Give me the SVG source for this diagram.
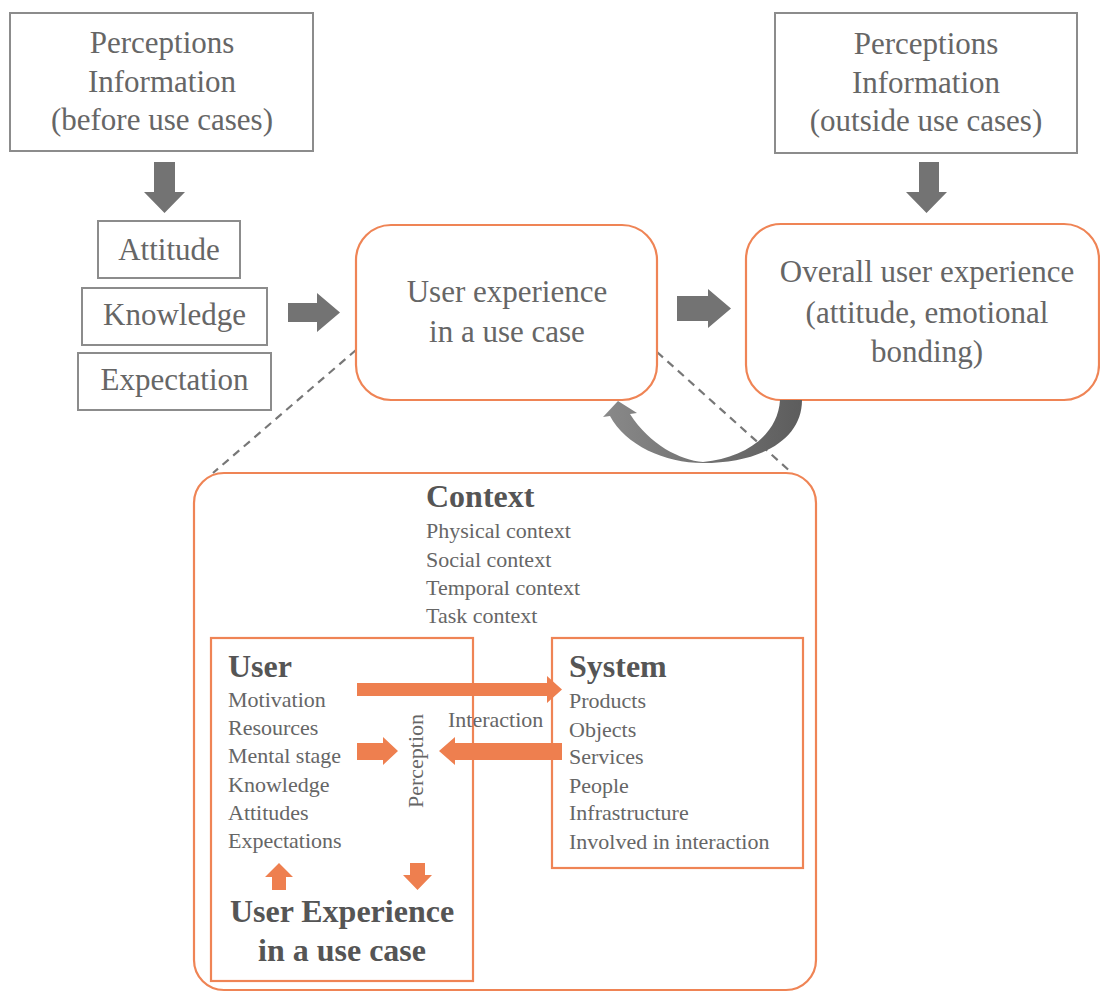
<svg xmlns="http://www.w3.org/2000/svg" width="1100" height="992" viewBox="0 0 1100 992">
  <defs>
    <style>
      text { font-family: "Liberation Serif", "DejaVu Serif", serif; fill: #666; }
      .big { font-size: 31px; text-anchor: middle; }
      .item { font-size: 22px; }
      .head { font-size: 32px; font-weight: bold; fill: #555; }
      .gbox { fill: #fff; stroke: #8c8c8c; stroke-width: 2; }
      .obox { fill: #fff; stroke: #ef8455; stroke-width: 2.2; }
      .garrow { fill: #737373; }
      .oarrow { fill: #ee7f4f; }
      .dash { fill: none; stroke: #777; stroke-width: 2.2; stroke-dasharray: 8 6; }
    </style>
    <linearGradient id="loopGrad" x1="600" y1="0" x2="805" y2="0" gradientUnits="userSpaceOnUse">
      <stop offset="0" stop-color="#8a8a8a"/>
      <stop offset="1" stop-color="#5c5c5c"/>
    </linearGradient>
  </defs>

  <rect width="1100" height="992" fill="#fff"/>

  <!-- zoom-out guides from the use-case box to the detail panel -->
  <g id="guides">
    <line class="dash" x1="356" y1="350" x2="213" y2="473"/>
    <line class="dash" x1="657" y1="352" x2="792" y2="473"/>
  </g>

  <!-- upper row -->
  <g id="before-info">
    <rect class="gbox" x="10" y="13" width="303" height="138"/>
    <text class="big" x="162" y="53">Perceptions</text>
    <text class="big" x="162" y="92">Information</text>
    <text class="big" x="162" y="130">(before use cases)</text>
  </g>

  <g id="outside-info">
    <rect class="gbox" x="775" y="13" width="302" height="140"/>
    <text class="big" x="926" y="54">Perceptions</text>
    <text class="big" x="926" y="93">Information</text>
    <text class="big" x="926" y="131">(outside use cases)</text>
  </g>

  <g id="attitude">
    <rect class="gbox" x="98" y="221" width="142" height="57"/>
    <text class="big" x="169" y="260">Attitude</text>
  </g>
  <g id="knowledge">
    <rect class="gbox" x="82" y="288" width="185" height="57"/>
    <text class="big" x="174.5" y="325">Knowledge</text>
  </g>
  <g id="expectation">
    <rect class="gbox" x="78" y="353" width="193" height="57"/>
    <text class="big" x="174.5" y="390">Expectation</text>
  </g>

  <g id="use-case-ux">
    <rect class="obox" x="356" y="225" width="301" height="175" rx="35"/>
    <text class="big" x="507" y="302">User experience</text>
    <text class="big" x="507" y="342">in a use case</text>
  </g>

  <g id="overall-ux">
    <rect class="obox" x="746" y="224" width="353" height="176" rx="35"/>
    <text class="big" x="927" y="282">Overall user experience</text>
    <text class="big" x="927" y="323">(attitude, emotional</text>
    <text class="big" x="927" y="362">bonding)</text>
  </g>

  <!-- detail panel -->
  <g id="context">
    <rect class="obox" x="194" y="473" width="622" height="517" rx="30"/>
    <text class="head" x="426" y="507">Context</text>
    <text class="item" x="426" y="538">Physical context</text>
    <text class="item" x="426" y="567">Social context</text>
    <text class="item" x="426" y="595">Temporal context</text>
    <text class="item" x="426" y="623">Task context</text>
  </g>

  <g id="user">
    <rect class="obox" x="211" y="638" width="262" height="343"/>
    <text class="head" x="228" y="677">User</text>
    <text class="item" x="228" y="707">Motivation</text>
    <text class="item" x="228" y="735">Resources</text>
    <text class="item" x="228" y="763">Mental stage</text>
    <text class="item" x="228" y="792">Knowledge</text>
    <text class="item" x="228" y="820">Attitudes</text>
    <text class="item" x="228" y="848">Expectations</text>
    <text class="head" x="342" y="922" text-anchor="middle">User Experience</text>
    <text class="head" x="342" y="961" text-anchor="middle">in a use case</text>
  </g>

  <g id="system">
    <rect class="obox" x="552" y="638" width="251" height="230"/>
    <text class="head" x="569" y="677">System</text>
    <text class="item" x="569" y="708">Products</text>
    <text class="item" x="569" y="737">Objects</text>
    <text class="item" x="569" y="764">Services</text>
    <text class="item" x="569" y="793">People</text>
    <text class="item" x="569" y="820">Infrastructure</text>
    <text class="item" x="569" y="849">Involved in interaction</text>
  </g>

  <g id="labels">
    <text class="item" x="448" y="727">Interaction</text>
    <text class="item" transform="translate(423 761) rotate(-90)" text-anchor="middle">Perception</text>
  </g>

  <!-- block arrows -->
  <g id="connectors">
    <!-- grey flow arrows -->
    <polygon class="garrow" points="154,162 175,162 175,192 185,192 164.5,213 144,192 154,192"/>
    <polygon class="garrow" points="919,162 939,162 939,192 947,192 926.5,213 906,192 919,192"/>
    <polygon class="garrow" points="288,303 317,303 317,293 340,312.5 317,332 317,322 288,322"/>
    <polygon class="garrow" points="677,296 708,296 708,289 731,308.5 708,328 708,321 677,321"/>
    <!-- feedback loop from overall experience back to the use case -->
    <path fill="url(#loopGrad)" d="M 802 400 C 802 440 760 463 703 463 C 665 463 625 445 610 416 L 603 417 L 618 401 L 637 413 L 630 414 C 650 445 680 460 703 462 C 745 458 778 435 780 400 Z"/>

    <!-- orange interaction arrows -->
    <polygon class="oarrow" points="357,683 547,683 547,676 562,689.5 547,703 547,696 357,696"/>
    <polygon class="oarrow" points="357,743 383,743 383,737 398,751 383,765 383,760 357,760"/>
    <polygon class="oarrow" points="562,743 455,743 455,737 439,751 455,765 455,760 562,760"/>
    <polygon class="oarrow" points="272,890 286,890 286,877 293,877 279,863 265,877 272,877"/>
    <polygon class="oarrow" points="410,863 425,863 425,875 432,875 417.5,890 403,875 410,875"/>
  </g>
</svg>
